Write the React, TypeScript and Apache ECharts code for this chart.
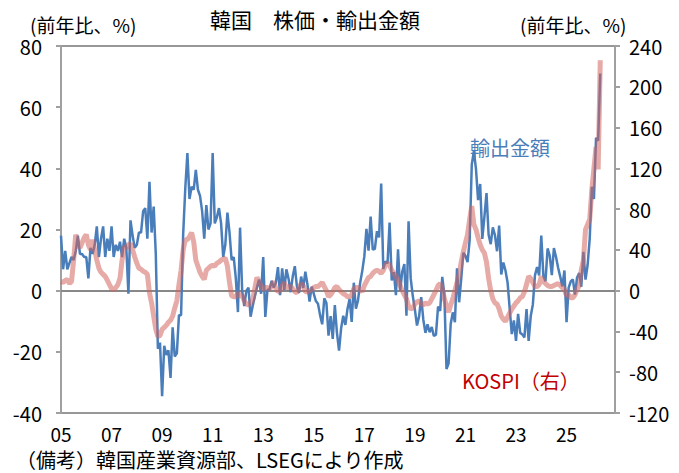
import React, { useEffect, useRef } from "react";
import * as echarts from "echarts";

// Monthly categories Jan 2005 - Dec 2026
const years = [2005, 2006, 2007, 2008, 2009, 2010, 2011, 2012, 2013, 2014, 2015, 2016, 2017, 2018, 2019, 2020, 2021, 2022, 2023, 2024, 2025, 2026];
const monthNames = ["01", "02", "03", "04", "05", "06", "07", "08", "09", "10", "11", "12"];
const categories: string[] = years.flatMap((y) => monthNames.map((m) => `${y}-${m}`));

// 輸出金額 (前年比, %), left axis
const exportsYoY = [
  18, 7, 13, 7, 9, 11, 10, 13, 18, 12, 12, 11,
  11, 4, 14, 12, 15, 21, 11, 17, 21, 11, 17, 13,
  21, 11, 15, 13, 16, 11, 17, 14, -1, 23, 18, 14,
  15, 19, 19, 26, 27, 17, 35.6, 19, 27.5, 12, -19, -17,
  -34.5, -18, -21, -19.5, -28.5, -12, -21.5, -20.5, -8, -8, 18.5, 33.5,
  45, 30, 34, 33, 39.5, 33, 31, 26, 17, 28, 20, 22,
  45, 22, 24, 27, 22, 11, 15, 25.5, 19, 10, 11, 4,
  -7, 20.6, 0, -5, 0, 1, -8.5, -5, -2, 1, 3.6, -1,
  11, -8.6, 0.2, 0.4, 3.2, 1, 2.6, 7.7, -1.5, 7.3, 0.2, 7,
  4, -0.5, 4.6, 8, 1.3, -0.7, 4.6, 0.9, 6.2, 2, -3.6, 1.3,
  -1, -3.4, -4.3, -8, -11, -2.5, -4, -14.7, -8.3, -15.8, -4.7, -13.8,
  -19.6, -12.2, -8.2, -11.2, -6, -2.7, -10.2, 2.6, -5.9, -3.2, 2.5, 6.4,
  11.2, 20.2, 13.1, 24.2, 13.4, 13.7, 19.5, 17.4, 35, 7.1, 9.6, 8.9,
  22.3, 3.3, 6.1, -1.5, 13.5, -0.1, 6.2, 8.7, -8.2, 22.7, 4.1, -1.7,
  -6.2, -11.4, -8.4, -2.1, -9.5, -13.8, -11, -13.6, -11.9, -14.8, -14.4, -5.2,
  -6.6, 4.5, -1.4, -25.6, -23.8, -10.9, -7.1, -10.3, 7.3, -3.8, 3.9, 12.4,
  11.4, 9.3, 16.5, 41.2, 45.6, 39.8, 29.6, 34.9, 16.9, 24.1, 31.9, 18.3,
  15.2, 20.7, 18.2, 12.9, 21.3, 5.3, 9.2, 6.6, 2.7, -5.8, -14.2, -9.7,
  -16.4, -7.6, -13.8, -14.3, -15.3, -6, -16.4, -8.3, -4.5, 5, 7.7, 5,
  18, 4.8, 3.1, 13.8, 11.5, 5.1, 13.9, 11, 7.5, 4.6, 1.4, 6.6,
  -10.3, 1, 3, 3.7, -1.3, 4.3, 5.8, 1.3, 12.7, 3.6, 8.4, 17,
  34, 30, 50, 49, 71,
];

// KOSPI (前年比, %), right axis
const kospiYoY = [
  9, 8, 10, 11, 7, 9, 30, 55, 45, 42, 47, 52,
  55, 45, 40, 50, 40, 30, 22, 18, 16, 14, 10, 6,
  2, 1, 3, 6, 12, 30, 43, 42, 45, 46, 40, 33,
  27, 22, 21, 19, 18, 16, -2, -12, -25, -38, -45, -44,
  -38, -36, -34, -31, -29, -25, -17, -10, 6, 20, 40, 50,
  50, 53, 57, 48, 30, 24, 18, 14, 11, 20, 22, 24,
  25, 24, 27, 28, 30, 31, 32, 24, 8, -5, -6, -6,
  -2, -5, -5, -10, -13, -14, -12, -9, 2, 13, 9, 5,
  1, 3, 3, 1, 5, 9, 2, -1, 0, 5, 8, 2,
  4, 4, 2, -1, -2, 3, 7, 5, -1, -1, 0, 1,
  3, 4, 4, 6, 8, 4, 0, -6, -4, -1, 3, 4,
  1, -1, -3, -4, -6, -6, -4, 2, 3, 3, 1, -1,
  5, 9, 13, 14, 17, 19, 20, 19, 17, 20, 25, 27,
  25, 20, 17, 14, 10, 5, 0, -4, -8, -15, -18, -17,
  -13, -11, -10, -13, -14, -12, -13, -12, -8, -4, 0, 5,
  7, 2, -8, -15, -21, -14, -8, 0, 8, 16, 28, 38,
  47, 55, 70, 83, 65, 60, 52, 45, 40, 37, 28, 12,
  0, -8, -12, -13, -18, -25, -28, -30, -26, -22, -18, -15,
  -12, -10, -7, -6, -1, 6, 14, 12, 8, 4, 4, 6,
  14, 9, 7, 5, 4, 4, 5, 6, 7, 5, 3, 1,
  -5, -4, -7, -7, -4, 1, 5, 20, 30, 60, 65, 70,
  99, 120, 141, 119, 226,
];

const leftMin = -40, leftMax = 80, leftInterval = 20;
const rightMin = -120, rightMax = 240, rightInterval = 40;
const labelEvery = 24;

const titleText = "韓国　株価・輸出金額";
const unitText = "(前年比、%)";
const noteText = "（備考）韓国産業資源部、LSEGにより作成";
const exportsLabel = "輸出金額";
const kospiLabel = "KOSPI（右）";

const cjk = '"Noto Sans CJK JP", sans-serif';
const num = '"Noto Sans CJK JP", sans-serif';

export default function App() {
  const ref = useRef<HTMLDivElement>(null);
  useEffect(() => {
    if (!ref.current) return;
    const chart = echarts.init(ref.current, undefined, { renderer: "svg" });
    const axisGray = "#a0a0a0";
    chart.setOption({
      animation: false,
      backgroundColor: "#fff",
      grid: { left: 61, right: 64, top: 46, bottom: 60, show: true, borderColor: "#303030", borderWidth: 1, backgroundColor: "transparent" },
      xAxis: {
        type: "category",
        data: categories,
        boundaryGap: false,
        axisLine: { show: true, lineStyle: { color: "#808080", width: 1.5 } },
        axisTick: { show: false },
        axisLabel: {
          interval: (i: number) => i % labelEvery === 0,
          formatter: (v: string) => v.slice(2, 4),
          color: "#000",
          fontSize: 19,
          fontFamily: num,
          margin: 11,
        },
        splitLine: { show: false },
      },
      yAxis: [
        {
          type: "value",
          min: leftMin,
          max: leftMax,
          interval: leftInterval,
          position: "left",
          axisLine: { show: true, lineStyle: { color: axisGray, width: 2 } },
          axisTick: { show: true, length: 5, lineStyle: { color: axisGray, width: 2 } },
          axisLabel: { color: "#000", fontSize: 20, fontFamily: num, margin: 19 },
          splitLine: { show: true, lineStyle: { color: ["none", "none", "#808080", "none", "none", "none", "none"], width: 1.5 } },
        },
        {
          type: "value",
          min: rightMin,
          max: rightMax,
          interval: rightInterval,
          position: "right",
          axisLine: { show: true, lineStyle: { color: axisGray, width: 2 } },
          axisTick: { show: true, length: 5, lineStyle: { color: axisGray, width: 2 } },
          axisLabel: { color: "#000", fontSize: 20, fontFamily: num, margin: 14 },
          splitLine: { show: false },
        },
      ],
      series: [
        {
          name: exportsLabel,
          type: "line",
          data: exportsYoY,
          yAxisIndex: 0,
          symbol: "none",
          lineStyle: { color: "#4a7ebb", width: 2.5 },
          z: 2,
        },
        {
          name: "KOSPI",
          type: "line",
          data: kospiYoY,
          yAxisIndex: 1,
          symbol: "none",
          lineStyle: { color: "rgba(210,100,95,0.55)", width: 5 },
          z: 3,
        },
      ],
      graphic: [
        { type: "text", x: 315, y: 19, style: { text: titleText, font: `21px ${cjk}`, fill: "#000", textAlign: "center", textVerticalAlign: "middle" } },
        { type: "text", x: 30, y: 24, style: { text: unitText, font: `19px ${cjk}`, fill: "#000", textAlign: "left", textVerticalAlign: "middle" } },
        { type: "text", x: 520, y: 24, style: { text: unitText, font: `19px ${cjk}`, fill: "#000", textAlign: "left", textVerticalAlign: "middle" } },
        { type: "text", x: 16, y: 459, style: { text: noteText, font: `20px ${cjk}`, fill: "#000", textAlign: "left", textVerticalAlign: "middle" } },
        { type: "text", x: 470, y: 147, style: { text: exportsLabel, font: `20px ${cjk}`, fill: "#4a7ebb", textAlign: "left", textVerticalAlign: "middle" } },
        { type: "text", x: 462, y: 380, style: { text: kospiLabel, font: `20px ${cjk}`, fill: "#c00000", textAlign: "left", textVerticalAlign: "middle" } },
      ],
    });
    return () => chart.dispose();
  }, []);
  return <div ref={ref} style={{ width: 679, height: 473, position: "absolute", left: 0, top: 0 }} />;
}
